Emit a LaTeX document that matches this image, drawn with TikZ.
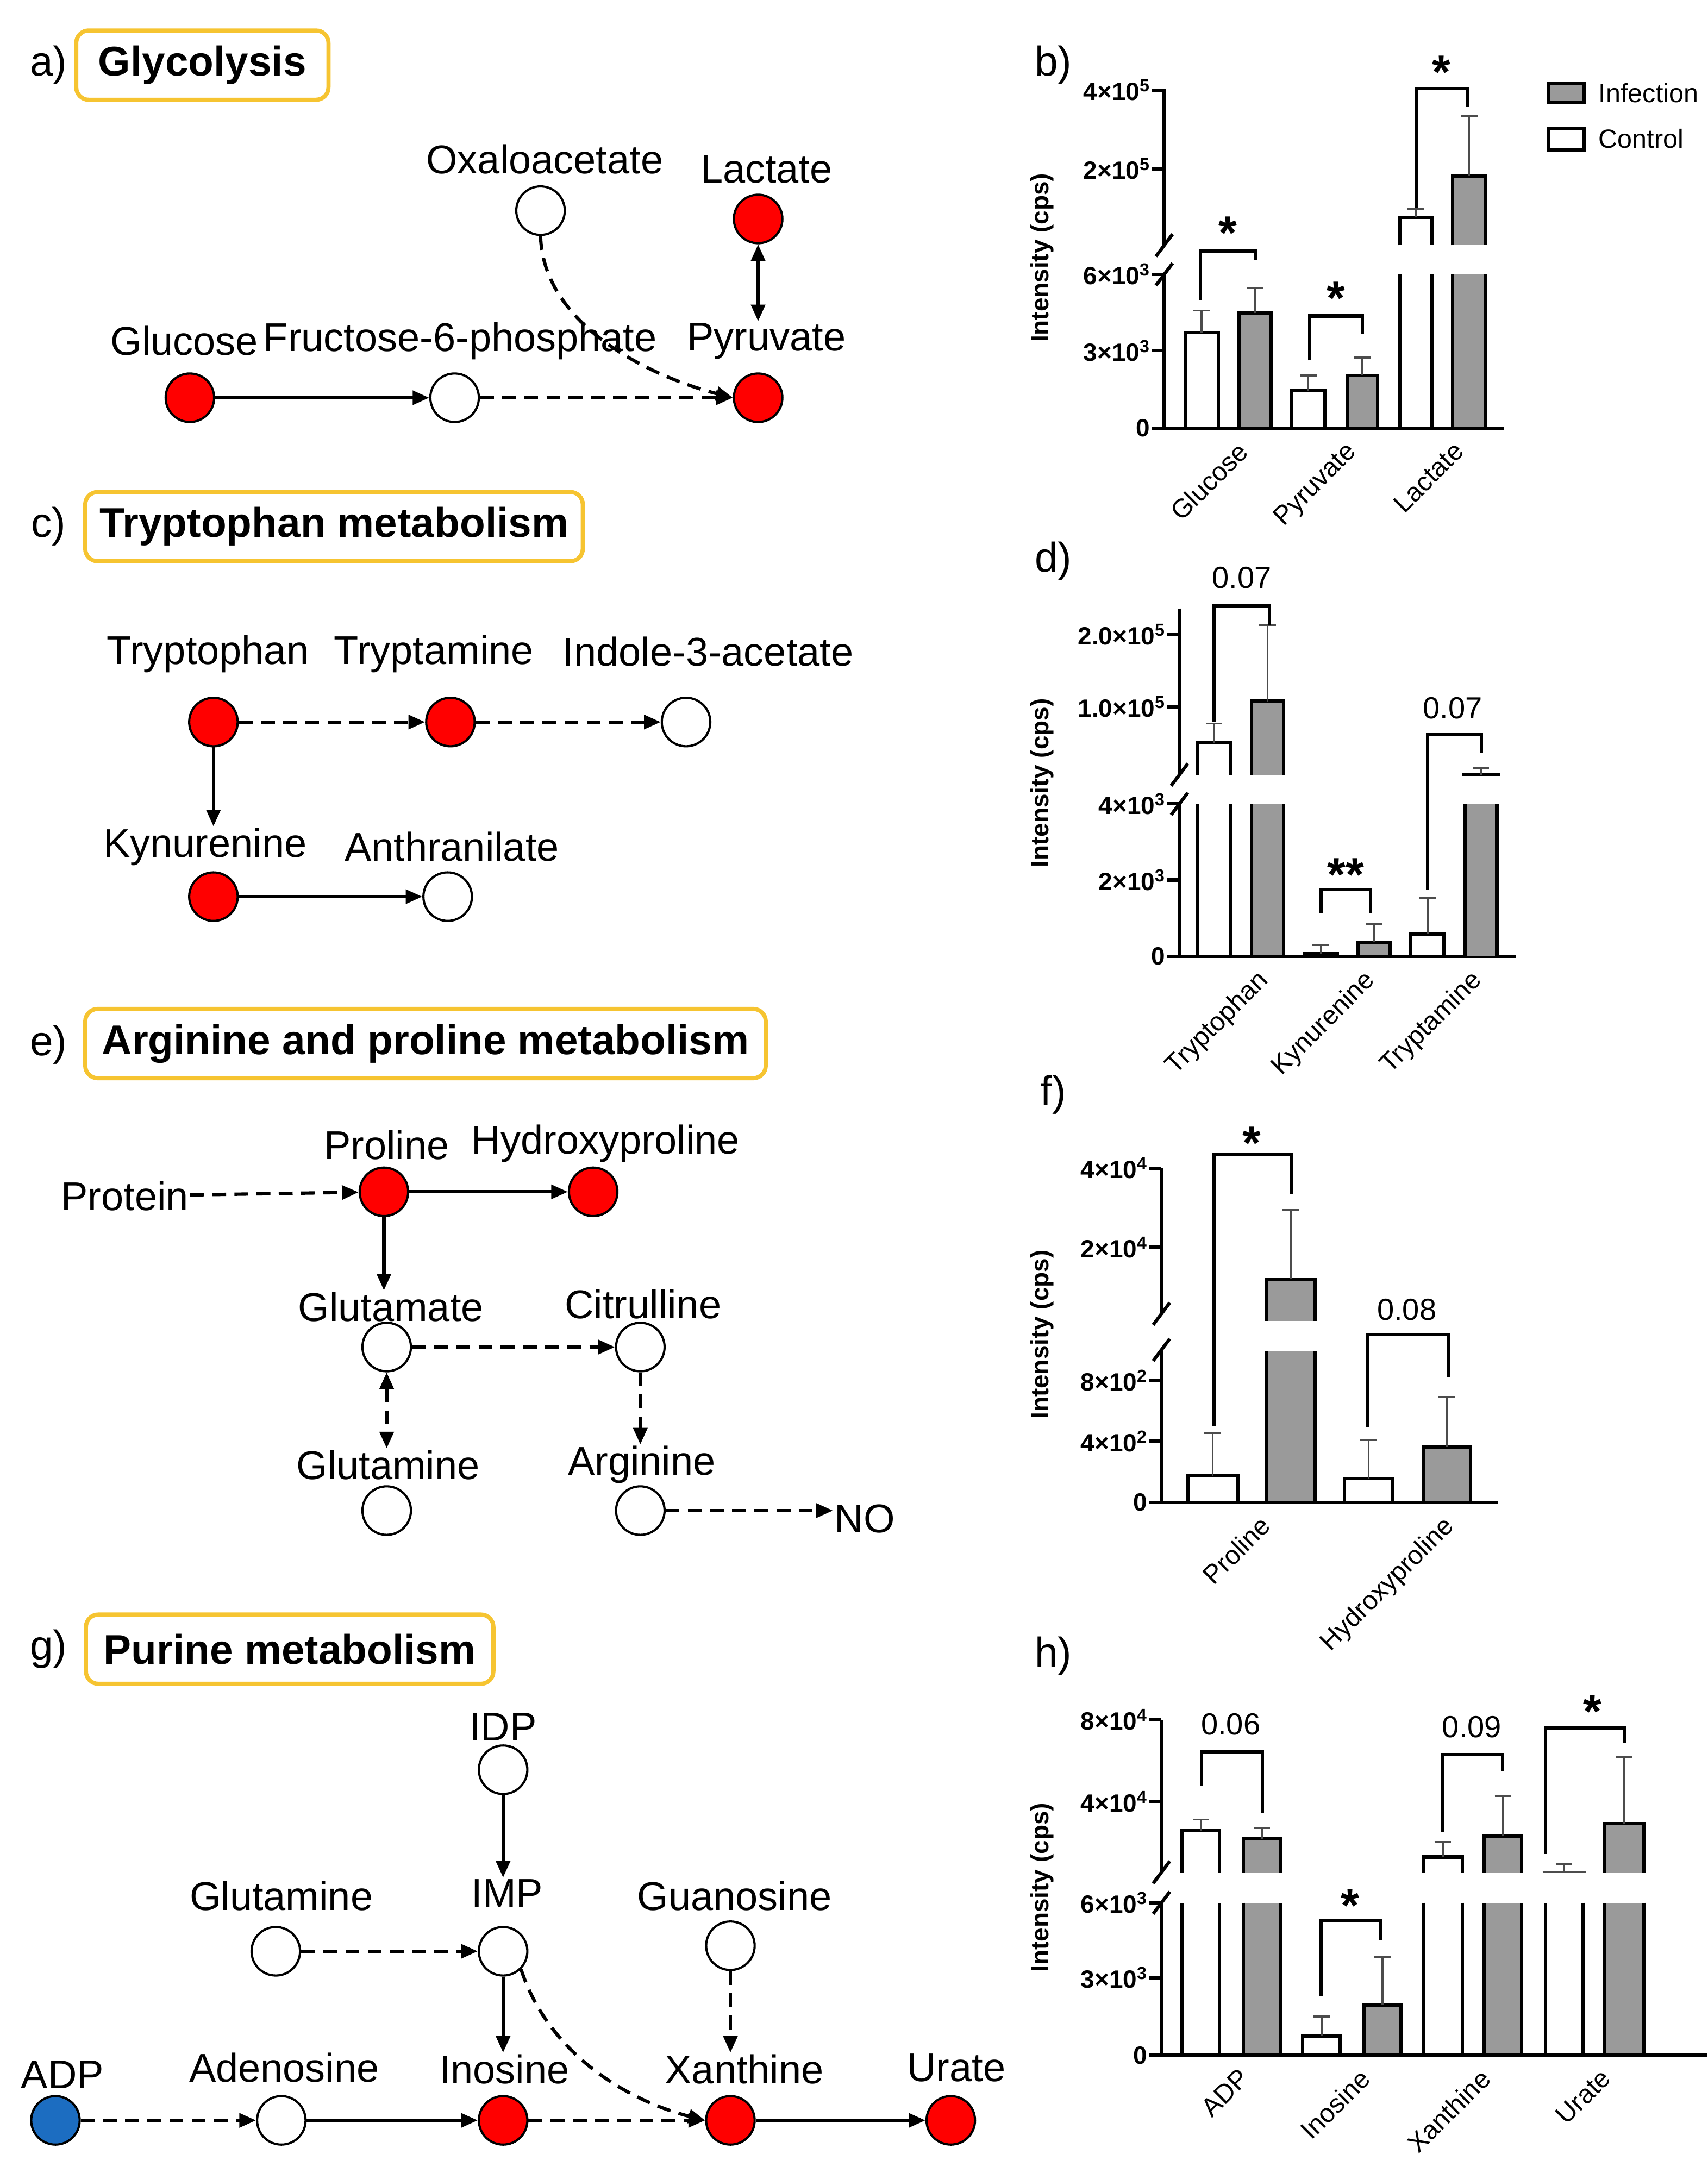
\documentclass[tikz,border=0pt]{standalone}
\usepackage{fontspec}
\setmainfont{Liberation Sans}
\usetikzlibrary{arrows.meta}
\definecolor{hl}{HTML}{F6C431}
\definecolor{rd}{HTML}{FF0000}
\definecolor{bl}{HTML}{1C6DC1}
\definecolor{gb}{HTML}{9A9A9A}
\tikzset{
 met/.style={circle,draw=black,line width=1.6pt,minimum size=35pt,inner sep=0pt},
 red/.style={met,fill=rd}, wht/.style={met,fill=white}, blu/.style={met,fill=bl},
 lab/.style={font=\fontsize{29}{32}\selectfont,inner sep=1pt},
 pl/.style={font=\fontsize{30}{32}\selectfont,inner sep=0pt},
 head/.style={draw=hl,line width=3pt,rounded corners=9pt,font=\fontsize{30}{32}\selectfont\bfseries,inner sep=0pt,minimum height=50pt},
 sol/.style={line width=2.4pt,-{Triangle[length=12pt,width=10pt]}},
 dbl/.style={{Triangle[length=12pt,width=10pt]}-{Triangle[length=12pt,width=10pt]}},
 das/.style={sol,dash pattern=on 10pt off 6pt},
 ax/.style={line width=2.4pt},
 bar/.style={line width=2.4pt},
 errl/.style={line width=1.4pt,draw=black!70},
 brk/.style={line width=2.4pt},
 tk/.style={font=\fontsize{18}{20}\selectfont\bfseries,anchor=east,inner sep=2pt},
 yt/.style={font=\fontsize{18}{20}\selectfont\bfseries,rotate=90},
 xl/.style={font=\fontsize{19}{21}\selectfont,rotate=45,anchor=north east,inner sep=1pt},
 lg/.style={font=\fontsize{19}{21}\selectfont,anchor=west},
 pv/.style={font=\fontsize{22}{24}\selectfont},
 st/.style={font=\fontsize{34}{34}\selectfont\bfseries},
}
\newcommand\bfull[5]{\draw[bar,fill=#5] (#1,#4) rectangle (#2,#3);}
\newcommand\bbrk[7]{\fill[#7] (#1,#3) rectangle (#2,#4); \draw[bar] (#1,#4)--(#1,#3)--(#2,#3)--(#2,#4);
 \fill[#7] (#1,#5) rectangle (#2,#6); \draw[bar] (#1,#5)--(#1,#6) (#2,#5)--(#2,#6) (#1,#6)--(#2,#6);}
\newcommand\err[3]{\draw[errl] (#1,#2)--(#1,#3) (#1-6,#3)--(#1+6,#3);}
\newcommand\brkt[5]{\draw[brk] (#1,#3)--(#1,#2)--(#4,#2)--(#4,#5);}
\newcommand\yaxis[5]{%
 \draw[ax] (#1,#2)--(#1,#3) (#1,#4)--(#1,#5);
 \draw[ax] (#1-6,#3+8)--(#1+6,#3-8) (#1-6,#4+8)--(#1+6,#4-8);}
\newcommand\tick[3]{\draw[ax] (#1-9,#2)--(#1,#2); \node[tk] at (#1-8,#2) {#3};}
\begin{document}
\begin{tikzpicture}[x=1pt,y=-1pt]
\useasboundingbox (0,0) rectangle (1232,1568);
% ---------- a)
\node[pl] (la) at (35,47) {a)};
\node[head,minimum width=182pt] (ha) at (146,47) {Glycolysis};
\node[red] (glc) at (137,287) {}; \node[lab] (tglc) at (133,246) {Glucose};
\node[wht] (f6p) at (328,287) {}; \node[lab] (tf6p) at (332,246) {Fructose-6-phosphate};
\node[red] (pyr) at (547,287) {}; \node[lab] (tpyr) at (553,246) {Pyruvate};
\node[red] (lac) at (547,158) {}; \node[lab] (tlac) at (553,122) {Lactate};
\node[wht] (oaa) at (390,152) {}; \node[lab] (toaa) at (393,115) {Oxaloacetate};
\draw[sol] (glc)--(f6p);
\draw[das] (f6p)--(pyr);
\draw[sol,dbl] (lac.south)--(tpyr.north-|lac.south);
\draw[das] (oaa.south) .. controls (392,235) and (470,272) .. (pyr.west);
% ---------- c)
\node[pl] (lc) at (35,380) {c)};
\node[head,minimum width=359pt] (hc) at (241,380) {Tryptophan metabolism};
\node[red] (trp) at (154,521) {}; \node[lab] (ttrp) at (150,472) {Tryptophan};
\node[red] (tra) at (325,521) {}; \node[lab] (ttra) at (313,472) {Tryptamine};
\node[wht] (iaa) at (495,521) {}; \node[lab] (tiaa) at (511,470) {Indole-3-acetate};
\node[red] (kyn) at (154,647) {}; \node[lab] (tkyn) at (148,611) {Kynurenine};
\node[wht] (ant) at (323,647) {}; \node[lab] (tant) at (326,611) {Anthranilate};
\draw[das] (trp)--(tra); \draw[das] (tra)--(iaa);
\draw[sol] (trp.south)--(tkyn.north-|trp.south); \draw[sol] (kyn)--(ant);
% ---------- e)
\node[pl] (le) at (35,754) {e)};
\node[head,minimum width=491pt] (he) at (307,753) {Arginine and proline metabolism};
\node[lab] (prot) at (90,863) {Protein};
\node[red] (pro) at (277,860) {}; \node[lab] (tpro) at (279,826) {Proline};
\node[red] (hyp) at (428,860) {}; \node[lab] (thyp) at (437,825) {Hydroxyproline};
\node[wht] (glu) at (279,972) {}; \node[lab] (tglu) at (282,943) {Glutamate};
\node[wht] (cit) at (462,972) {}; \node[lab] (tcit) at (464,941) {Citrulline};
\node[wht] (gln) at (279,1090) {}; \node[lab] (tgln) at (280,1057) {Glutamine};
\node[wht] (arg) at (462,1090) {}; \node[lab] (targ) at (463,1057) {Arginine};
\node[lab,anchor=west] (no) at (601,1096) {NO};
\draw[das] (prot)--(pro); \draw[sol] (pro)--(hyp); \draw[sol] (pro.south)--(tglu.north-|pro.south);
\draw[das] (glu)--(cit);
\draw[das,dbl] (glu.south)--(tgln.north-|glu.south);
\draw[das] (cit.south)--(targ.north-|cit.south); \draw[das] (arg.east)--(no.west|-arg.east);
% ---------- g)
\node[pl] (lg) at (35,1190) {g)};
\node[head,minimum width=294pt] (hg) at (209,1190) {Purine metabolism};
\node[wht] (idp) at (363,1277) {}; \node[lab] (tidp) at (363,1246) {IDP};
\node[wht] (imp) at (363,1408) {}; \node[lab] (timp) at (366,1366) {IMP};
\node[wht] (gln2) at (199,1408) {}; \node[lab] (tgln2) at (203,1368) {Glutamine};
\node[wht] (guo) at (527,1404) {}; \node[lab] (tguo) at (530,1368) {Guanosine};
\node[blu] (adp) at (40,1530) {}; \node[lab] (tadp) at (45,1497) {ADP};
\node[wht] (ado) at (203,1530) {}; \node[lab] (tado) at (205,1492) {Adenosine};
\node[red] (ino) at (363,1530) {}; \node[lab] (tino) at (364,1493) {Inosine};
\node[red] (xan) at (527,1530) {}; \node[lab] (txan) at (537,1493) {Xanthine};
\node[red] (ura) at (686,1530) {}; \node[lab] (tura) at (690,1492) {Urate};
\draw[sol] (idp.south)--(timp.north-|idp.south); \draw[das] (gln2)--(imp); \draw[sol] (imp.south)--(tino.north-|imp.south);
\draw[das] (imp.south east) .. controls (395,1480) and (450,1515) .. (xan.west);
\draw[das] (guo.south)--(txan.north-|guo.south); \draw[das] (adp)--(ado); \draw[sol] (ado)--(ino);
\draw[das] (ino)--(xan); \draw[sol] (xan)--(ura);
% ========== chart b
\node[pl] (lb) at (760,47) {b)};
\yaxis{840}{64}{177}{198}{309}
\tick{840}{65}{4×10\textsuperscript{5}} \tick{840}{122}{2×10\textsuperscript{5}}
\tick{840}{198}{6×10\textsuperscript{3}} \tick{840}{253}{3×10\textsuperscript{3}} \tick{840}{309}{0}
\draw[ax] (840,309)--(1085,309);
\node[yt] (ytb) at (752,186) {Intensity (cps)};
\bfull{855}{879}{240}{309}{white} \err{867}{240}{224}
\bfull{894}{917}{226}{309}{gb} \err{905.5}{226}{208}
\bfull{932}{956}{282}{309}{white} \err{944}{282}{271}
\bfull{972}{994}{271}{309}{gb} \err{983}{271}{258}
\bbrk{1010}{1033}{157}{177}{198}{309}{white} \err{1021.5}{157}{151}
\bbrk{1048}{1072}{127}{177}{198}{309}{gb} \err{1060}{127}{84}
\brkt{866}{181}{217}{906}{188} \node[st] at (886,168) {*};
\brkt{945}{228}{260}{983}{241} \node[st] at (964,215) {*};
\brkt{1022}{64}{150}{1059}{77} \node[st] at (1040,52) {*};
\draw[bar,fill=gb] (1117,60) rectangle (1143,74); \node[lg] at (1150,67) {Infection};
\draw[bar,fill=white] (1117,93) rectangle (1143,108); \node[lg] at (1150,100) {Control};
\node[xl] at (892,316) {Glucose}; \node[xl] at (970,316) {Pyruvate}; \node[xl] at (1048,316) {Lactate};
% ========== chart d
\node[pl] (ld) at (760,405) {d)};
\yaxis{851}{439}{559}{580}{690}
\tick{851}{458}{2.0×10\textsuperscript{5}} \tick{851}{510}{1.0×10\textsuperscript{5}}
\tick{851}{580}{4×10\textsuperscript{3}} \tick{851}{635}{2×10\textsuperscript{3}} \tick{851}{690}{0}
\draw[ax] (851,690)--(1094,690);
\node[yt] (ytd) at (752,565) {Intensity (cps)};
\bbrk{864}{888}{536}{559}{580}{690}{white} \err{876}{536}{522}
\bbrk{903}{926}{506}{559}{580}{690}{gb} \err{914.5}{506}{451}
\bfull{941}{965}{688}{690}{white} \err{953}{688}{682}
\bfull{980}{1003}{680}{690}{gb} \err{991.5}{680}{667}
\bfull{1018}{1042}{674}{690}{white} \err{1030}{674}{648}
\fill[gb] (1057,580) rectangle (1080,690); \draw[bar] (1057,580)--(1057,690) (1080,580)--(1080,690);
\draw[bar] (1055,559)--(1082,559); \err{1068.5}{559}{554}
\brkt{876}{437}{521}{916}{451} \node[pv] at (896,417) {0.07};
\brkt{953}{642}{659}{989}{659} \node[st] at (971,631) {**};
\brkt{1030}{530}{642}{1069}{543} \node[pv] at (1048,511) {0.07};
\node[xl] at (906,697) {Tryptophan}; \node[xl] at (983,697) {Kynurenine}; \node[xl] at (1060,697) {Tryptamine};
% ========== chart f
\node[pl] (lf) at (760,790) {f)};
\yaxis{838}{843}{948}{974}{1084}
\tick{838}{843}{4×10\textsuperscript{4}} \tick{838}{900}{2×10\textsuperscript{4}}
\tick{838}{996}{8×10\textsuperscript{2}} \tick{838}{1040}{4×10\textsuperscript{2}} \tick{838}{1084}{0}
\draw[ax] (838,1084)--(1081,1084);
\node[yt] (ytf) at (752,963) {Intensity (cps)};
\bfull{857}{893}{1065}{1084}{white} \err{875}{1065}{1034}
\bbrk{914}{949}{923}{953}{975}{1084}{gb} \err{931.5}{923}{873}
\bfull{970}{1005}{1067}{1084}{white} \err{987.5}{1067}{1039}
\bfull{1027}{1061}{1044}{1084}{gb} \err{1044}{1044}{1008}
\brkt{876}{833}{1029}{932}{862} \node[st] at (903,825) {*};
\brkt{987}{963}{1030}{1045}{994} \node[pv] at (1015,945) {0.08};
\node[xl] at (908,1091) {Proline}; \node[xl] at (1040,1091) {Hydroxyproline};
% ========== chart h
\node[pl] (lh) at (760,1195) {h)};
\yaxis{838}{1241}{1351}{1373}{1483}
\tick{838}{1241}{8×10\textsuperscript{4}} \tick{838}{1300}{4×10\textsuperscript{4}}
\tick{838}{1373}{6×10\textsuperscript{3}} \tick{838}{1427}{3×10\textsuperscript{3}} \tick{838}{1483}{0}
\draw[ax] (838,1483)--(1232,1483);
\node[yt] (yth) at (752,1362) {Intensity (cps)};
\bbrk{853}{880}{1321}{1351}{1373}{1483}{white} \err{866.5}{1321}{1313}
\bbrk{897}{924}{1327}{1351}{1373}{1483}{gb} \err{910.5}{1327}{1319}
\bfull{940}{967}{1469}{1483}{white} \err{953.5}{1469}{1455}
\bfull{984}{1011}{1447}{1483}{gb} \err{997.5}{1447}{1412}
\bbrk{1027}{1055}{1340}{1351}{1373}{1483}{white} \err{1041}{1340}{1329}
\bbrk{1071}{1098}{1325}{1351}{1373}{1483}{gb} \err{1084.5}{1325}{1296}
\draw[bar] (1115,1373)--(1115,1483) (1142,1373)--(1142,1483); \draw[errl] (1113,1351)--(1144,1351); \err{1128.5}{1351}{1345}
\bbrk{1158}{1186}{1316}{1351}{1373}{1483}{gb} \err{1172}{1316}{1268}
\brkt{1041}{1266}{1322}{1084}{1278} \node[pv] at (1062,1246) {0.09};
\brkt{867}{1264}{1289}{911}{1308} \node[pv] at (888,1244) {0.06};
\brkt{953}{1386}{1440}{996}{1400} \node[st] at (974,1375) {*};
\brkt{1115}{1247}{1338}{1172}{1258} \node[st] at (1149,1235) {*};
\node[xl] at (893,1490) {ADP}; \node[xl] at (980,1490) {Inosine}; \node[xl] at (1067,1490) {Xanthine}; \node[xl] at (1154,1490) {Urate};
\end{tikzpicture}
\end{document}
